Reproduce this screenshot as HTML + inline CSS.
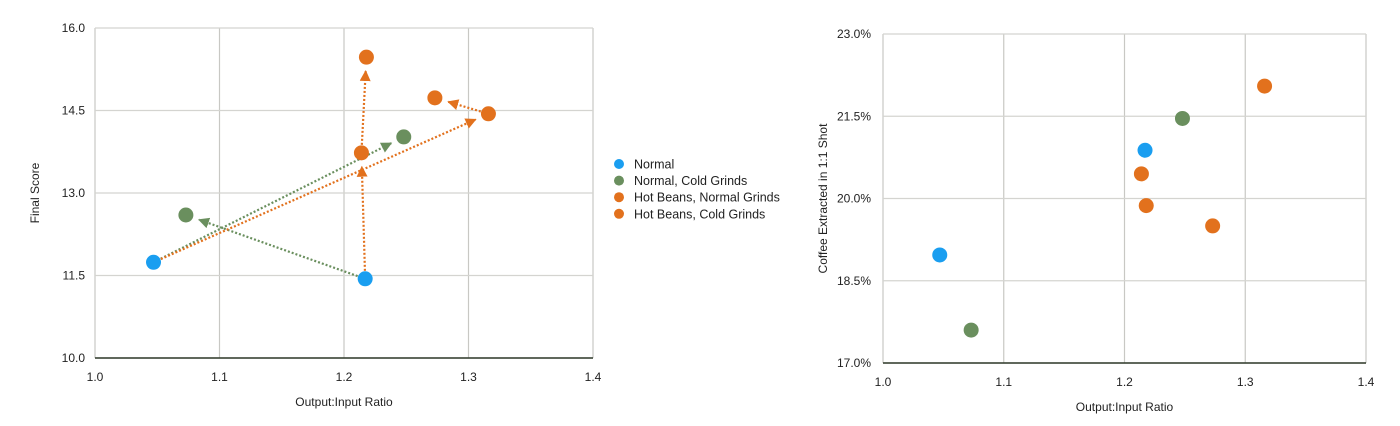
<!DOCTYPE html>
<html><head><meta charset="utf-8"><style>
body{margin:0;background:#fff;}
svg text{font-family:"Liberation Sans",sans-serif;fill:#222;}
</style></head><body>
<svg id="s" width="1400" height="421" xmlns="http://www.w3.org/2000/svg">
<defs>
<marker id="ag" viewBox="0 0 10 10" refX="9" refY="5" markerUnits="userSpaceOnUse" markerWidth="11" markerHeight="11" orient="auto"><path d="M0,0L10,5L0,10z" fill="#6a8f5e"/></marker>
<marker id="ao" viewBox="0 0 10 10" refX="9" refY="5" markerUnits="userSpaceOnUse" markerWidth="11" markerHeight="11" orient="auto"><path d="M0,0L10,5L0,10z" fill="#e2711d"/></marker>
</defs>
</svg>
<script>
const seriesNames=["Normal","Normal, Cold Grinds","Hot Beans, Normal Grinds","Hot Beans, Cold Grinds"];
const colors=["#1a9ef0","#6a8f5e","#e2711d","#e2711d"];
const ratio=[[1.047,1.217],[1.073,1.248],[1.214,1.316],[1.218,1.273]];
const score=[[11.74,11.44],[12.6,14.02],[13.73,14.44],[15.47,14.73]];
const extracted=[[18.97,20.88],[17.6,21.46],[20.45,22.05],[19.87,19.5]];
const xTicks=[1.0,1.1,1.2,1.3,1.4];
const yTicksL=[10.0,11.5,13.0,14.5,16.0];
const yTicksR=[17.0,18.5,20.0,21.5,23.0];
// arrows: [fromSeries,fromIdx,toSeries,toIdx,color]
const arrows=[[0,1,1,0,"g"],[0,0,1,1,"g"],[0,0,2,1,"o"],[0,1,2,0,"o"],[2,0,3,0,"o"],[2,1,3,1,"o"]];
const svg=document.getElementById('s');
const NS="http://www.w3.org/2000/svg";
function mk(t,a,p){const e=document.createElementNS(NS,t);for(const k in a)e.setAttribute(k,a[k]);(p||svg).appendChild(e);return e;}
function chart(x0,x1,y0,y1,yt,fmt,title,ydata,name,dx){
  const g=mk('g',{});
  
  
  const X=v=>x0+(v-xTicks[0])/(xTicks[xTicks.length-1]-xTicks[0])*(x1-x0);
  const Y=v=>y0-(v-yt[0])/(yt[yt.length-1]-yt[0])*(y0-y1);
  xTicks.forEach(t=>{
    const l=mk('line',{x1:X(t),x2:X(t),y1:y1,y2:y0,stroke:'#c8c8c4','stroke-width':1.2},g);
    
    
    const tx=mk('text',{x:X(t),y:y0+23,'text-anchor':'middle','font-size':12},g);tx.textContent=t.toFixed(1);
    
    
  });
  yt.forEach(t=>{
    const l=mk('line',{x1:x0,x2:x1,y1:Y(t),y2:Y(t),stroke:'#d4d4d0','stroke-width':1.2},g);
    
    
    const tx=mk('text',{x:x0-dx,y:Y(t)+4,'text-anchor':'end','font-size':12},g);tx.textContent=fmt(t);
    
    
  });
  const ax=mk('line',{x1:x0,x2:x1,y1:y0,y2:y0,stroke:'#2f3a2a','stroke-width':1.6},g);
  
  
  const xt=mk('text',{x:(x0+x1)/2,y:y0+48,'text-anchor':'middle','font-size':12},g);xt.textContent="Output:Input Ratio";
  
  
  const yc=(y0+y1)/2, yx=x0-56;
  const ytl=mk('text',{x:yx,y:yc,'text-anchor':'middle','font-size':12,transform:`rotate(-90 ${yx} ${yc})`},g);ytl.textContent=title;
  
  
  return {g,X,Y};
}
const L=chart(95,593,358,28,yTicksL,v=>v.toFixed(1),"Final Score",score,"score-chart",10);
arrows.forEach(a=>{
  const ax=L.X(ratio[a[0]][a[1]]),ay=L.Y(score[a[0]][a[1]]),bx=L.X(ratio[a[2]][a[3]]),by=L.Y(score[a[2]][a[3]]);
  const d=Math.hypot(bx-ax,by-ay),ux=(bx-ax)/d,uy=(by-ay)/d;
  const c=a[4]=="g"?"#6a8f5e":"#e2711d";
  const l=mk('line',{x1:ax+ux*8,y1:ay+uy*8,x2:bx-ux*14,y2:by-uy*14,stroke:c,'stroke-width':2.2,'stroke-dasharray':'2 2','marker-end':a[4]=="g"?'url(#ag)':'url(#ao)'},L.g);
  
  
});
const R=chart(883,1366,363,34,yTicksR,v=>v.toFixed(1)+"%","Coffee Extracted in 1:1 Shot",extracted,"extraction-chart",12);
for(let s=0;s<4;s++)for(let i=0;i<2;i++){
  const p=mk('circle',{cx:L.X(ratio[s][i]),cy:L.Y(score[s][i]),r:7.5,fill:colors[s]},L.g);
  
  
  const q=mk('circle',{cx:R.X(ratio[s][i]),cy:R.Y(extracted[s][i]),r:7.5,fill:colors[s]},R.g);
  
  
}
const lg=mk('g',{});


seriesNames.forEach((n,i)=>{
  const y=164+i*16.6;
  const c=mk('circle',{cx:619,cy:y,r:5,fill:colors[i]},lg);
  
  
  const t=mk('text',{x:634,y:y+4.5,'font-size':12.5},lg);t.textContent=n;
  
  
});
</script>
</body></html>
